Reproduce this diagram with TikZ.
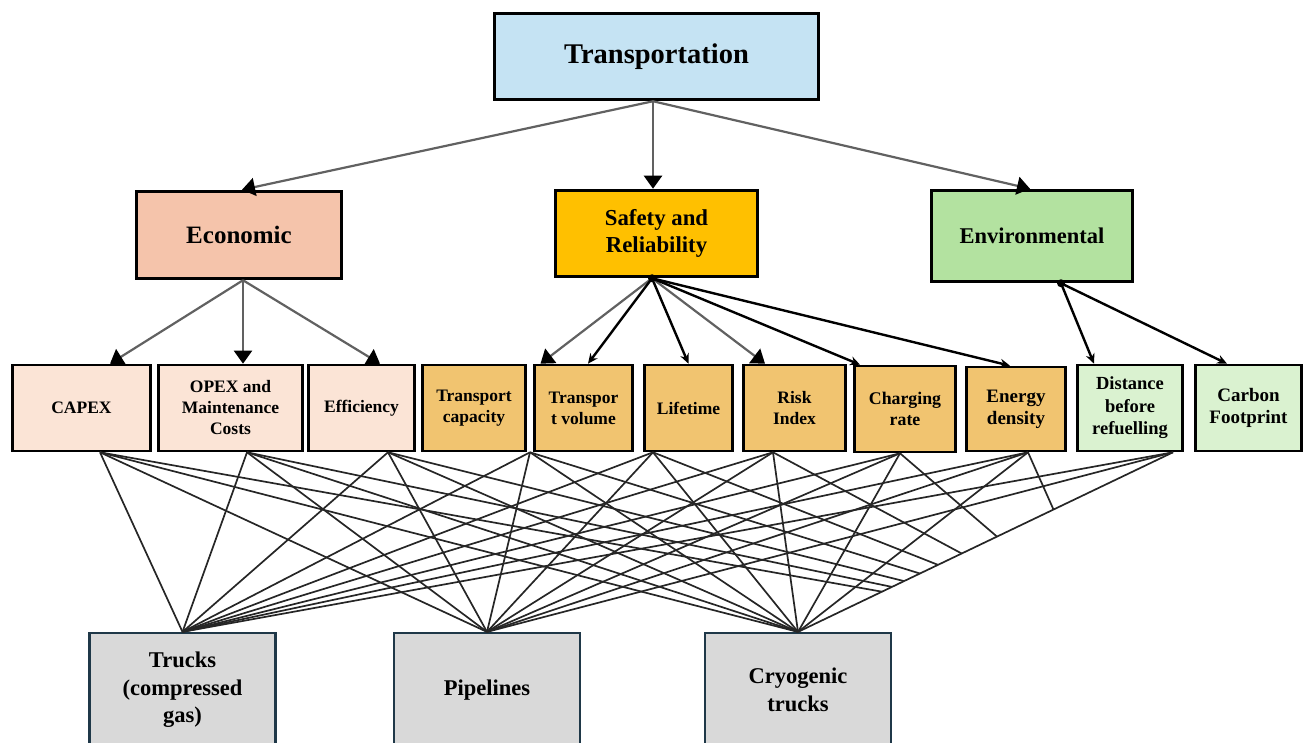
\documentclass[tikz,border=0pt]{standalone}
\usepackage{fontspec}
\setmainfont{Liberation Serif}
\usetikzlibrary{arrows.meta}

\definecolor{cTop}{RGB}{197,227,243}
\definecolor{cEcon}{RGB}{245,196,171}
\definecolor{cSafe}{RGB}{255,192,0}
\definecolor{cEnv}{RGB}{179,226,160}
\definecolor{cEconL}{RGB}{251,228,214}
\definecolor{cSafeL}{RGB}{241,196,112}
\definecolor{cEnvL}{RGB}{218,242,208}
\definecolor{cAlt}{RGB}{217,217,217}
\definecolor{cAltB}{RGB}{31,56,72}

\begin{document}
\begin{tikzpicture}[x=1pt,y=-1pt,
  box/.style={draw=black, rectangle, inner sep=0pt, align=center},
  goal/.style={box, fill=cTop, line width=3.5pt, font=\bfseries\fontsize{28.5}{33}\selectfont},
  crit/.style={box, line width=3.5pt, font=\bfseries\fontsize{22.5}{27}\selectfont},
  sub/.style={box, line width=2.6pt, minimum height=86pt, font=\bfseries\fontsize{17.5}{21}\selectfont},
  alt/.style={box, draw=cAltB, fill=cAlt, line width=2.2pt, minimum width=186pt, minimum height=114pt,
              font=\bfseries\fontsize{22.5}{27.5}\selectfont},
  garr/.style={draw=black!62, line width=2.2pt, -{Triangle[width=18pt,length=13pt,color=black]}},
  barr/.style={draw=black, line width=2.4pt, -{Stealth[length=10pt,width=9pt]}},
  mesh/.style={draw=black!85, line width=1.7pt},
  dot/.style={fill=black}]

\useasboundingbox (0,0) rectangle (1311,743);
\clip (0,0) rectangle (1311,743);

% goal
\node[goal, minimum width=324pt, minimum height=86pt] (trans) at (656.5,56.5) {Transportation};

% criteria
\node[crit, fill=cEcon, minimum width=205pt, minimum height=87pt,
      font=\bfseries\fontsize{25}{30}\selectfont] (econ) at (239,235) {Economic};
\node[crit, fill=cSafe, minimum width=202pt, minimum height=86pt,
      font=\bfseries\fontsize{22.8}{27.5}\selectfont] (safe) at (656.5,233.5) {Safety and\\Reliability};
\node[crit, fill=cEnv, minimum width=201pt, minimum height=91pt] (env) at (1032,236) {Environmental};

% sub-criteria
\node[sub, fill=cEconL, minimum width=138.5pt] (capex) at (81.5,408) {CAPEX};
\node[sub, fill=cEconL, minimum width=144.5pt] (opex) at (230.5,408) {OPEX and\\Maintenance\\Costs};
\node[sub, fill=cEconL, minimum width=106.5pt] (eff) at (361.5,408) {Efficiency};
\node[sub, fill=cSafeL, minimum width=103.5pt] (tcap) at (474,408) {Transport\\capacity};
\node[sub, fill=cSafeL, minimum width=98.5pt] (tvol) at (583.5,408) {Transpor\\t volume};
\node[sub, fill=cSafeL, minimum width=88.5pt] (life) at (688.5,408) {Lifetime};
\node[sub, fill=cSafeL, minimum width=102.5pt] (risk) at (794.5,408) {Risk\\Index};
\node[sub, fill=cSafeL, minimum width=101.5pt, font=\bfseries\fontsize{17.8}{21}\selectfont] (charge) at (905,409) {Charging\\rate};
\node[sub, fill=cSafeL, minimum width=99.5pt, minimum height=84pt, font=\bfseries\fontsize{19}{22}\selectfont] (energy) at (1016,409) {Energy\\density};
\node[sub, fill=cEnvL, minimum width=105.5pt, font=\bfseries\fontsize{18.5}{22.5}\selectfont] (dist) at (1130,408) {Distance\\before\\refuelling};
\node[sub, fill=cEnvL, minimum width=106.5pt, font=\bfseries\fontsize{19}{22}\selectfont] (carbon) at (1248.5,408) {Carbon\\Footprint};

% alternatives
\node[alt] (trucks) at (182.5,690) {Trucks\\(compressed\\gas)};
\node[alt] (pipe) at (487,690) {Pipelines};
\node[alt] (cryo) at (798,690) {Cryogenic\\trucks};

% goal to criteria
\coordinate (tsrc) at ([xshift=-3.5pt]trans.south);
\draw[garr] (tsrc) -- ([xshift=3pt]econ.north);
\draw[garr] (tsrc) -- ([xshift=-3.5pt]safe.north);
\draw[garr] (tsrc) -- ([xshift=-2pt]env.north);

% economic branch
\coordinate (esrc) at ([xshift=4pt]econ.south);
\draw[garr] (esrc) -- ([xshift=28.5pt]capex.north);
\draw[garr] (esrc) -- ([xshift=12.5pt]opex.north);
\draw[garr] (esrc) -- ([xshift=18.5pt]eff.north);

% safety branch
\coordinate (ssrc) at ([xshift=-4.5pt]safe.south);
\draw[garr] (ssrc) -- ([xshift=-43pt]tvol.north);
\draw[barr] (ssrc) -- ([xshift=4.5pt]tvol.north);
\draw[barr] (ssrc) -- (life.north);
\draw[garr] (ssrc) -- ([xshift=-29.5pt]risk.north);
\draw[barr] (ssrc) -- ([xshift=-45pt]charge.north);
\draw[barr] (ssrc) -- ([xshift=-6pt]energy.north);
\fill[dot] (ssrc) circle[radius=4pt];

% environmental branch
\coordinate (vsrc) at ([xshift=29pt]env.south);
\draw[barr] (vsrc) -- ([xshift=-36pt]dist.north);
\draw[barr] (vsrc) -- ([xshift=-21.5pt]carbon.north);
\fill[dot] (vsrc) circle[radius=4pt];

% sub-criteria to alternatives
\coordinate (s1) at ([xshift=18.5pt]capex.south);
\coordinate (s2) at ([xshift=16.5pt]opex.south);
\coordinate (s3) at ([xshift=26.5pt]eff.south);
\coordinate (s4) at ([xshift=-53.5pt]tvol.south);
\coordinate (s5) at ([xshift=-35.5pt]life.south);
\coordinate (s6) at ([xshift=-21.5pt]risk.south);
\coordinate (s7) at ([xshift=-5pt]charge.south);
\coordinate (s8) at ([xshift=12pt]energy.south);
\coordinate (s9) at ([xshift=43pt]dist.south);
\coordinate (sink) at (1108,632);

\foreach \s in {s1,s2,s3,s4,s5,s6,s7,s8,s9}{
  \foreach \t in {trucks,pipe,cryo}{
    \draw[mesh] (\s) -- (\t.north);
  }
}

% links toward the right, cut off at the last link of the cryogenic branch
\begin{scope}
  \clip (0,0) -- (1311,0) -- (1311,455) -- (s9) -- (cryo.north) -- (0,632) -- cycle;
  \foreach \s in {s1,s2,s3,s4,s5,s6,s7,s8}{
    \draw[mesh] (\s) -- (sink);
  }
\end{scope}

\end{tikzpicture}
\end{document}
